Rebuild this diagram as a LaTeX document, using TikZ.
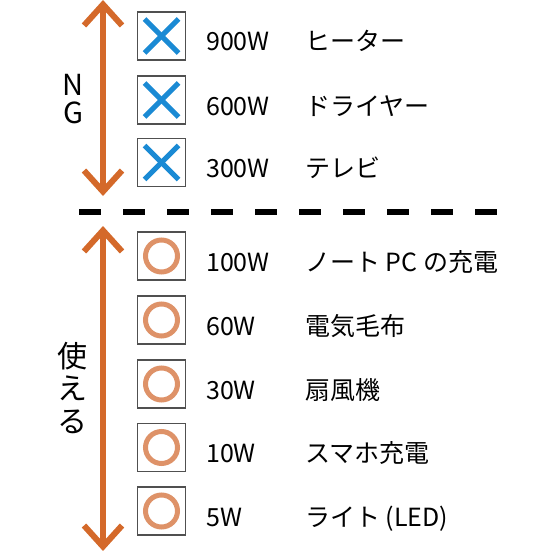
\documentclass[tikz,border=0pt]{standalone}
\usepackage{fontspec}
\setmainfont{Noto Sans CJK JP}
\usetikzlibrary{arrows.meta}
\definecolor{arrowor}{RGB}{212,105,42}
\definecolor{circor}{RGB}{222,146,104}
\definecolor{crossbl}{RGB}{26,138,212}
\definecolor{boxgr}{RGB}{80,80,80}
\begin{document}
\begin{tikzpicture}[x=1pt,y=-1pt,
  bigarrow/.style={draw=arrowor,line width=6pt,
    {Straight Barb[length=21pt,width=38pt]}-{Straight Barb[length=21pt,width=38pt]}},
  markbox/.style={draw=boxgr,line width=1.3pt,minimum width=48pt,minimum height=48pt,inner sep=0pt},
  watt/.style={anchor=base west,inner sep=0pt,font=\fontsize{25}{29}\selectfont},
  label/.style={anchor=base west,inner sep=0pt,font=\fontsize{25}{29}\selectfont},
  crossl/.style={draw=crossbl,line width=5pt},
  circl/.style={draw=circor,line width=5pt}]
\useasboundingbox (0,0) rectangle (551,551);
% arrows
\coordinate (a1t) at (103,0);
\coordinate (a1b) at (103,196);
\coordinate (a2t) at (103,226);
\coordinate (a2b) at (103,551);
\draw[bigarrow] (a1t) -- (a1b);
\draw[bigarrow] (a2t) -- (a2b);
% dashed separator
\coordinate (dl) at (79,212);
\coordinate (dr) at (500,212);
\draw[black,line width=6pt,dash pattern=on 22pt off 22pt] (dl) -- (dr);
% side labels
\node[inner sep=0pt,align=center,font=\fontsize{29}{28}\selectfont] (ng) at (73,99) {N\\G};
\node[inner sep=0pt,align=center,font=\fontsize{30}{32.5}\selectfont] (use) at (72,388) {使\\え\\る};
% NG rows
\foreach \y/\w/\t [count=\i] in {36/900W/ヒーター,100/600W/ドライヤー,162.5/300W/テレビ}{
  \node[markbox] (bx\i) at (161.5,\y) {};
  \draw[crossl] ([shift={(-17,-17)}]bx\i.center) -- ([shift={(17,17)}]bx\i.center);
  \draw[crossl] ([shift={(-17,17)}]bx\i.center) -- ([shift={(17,-17)}]bx\i.center);
  \node[watt] (w\i) at (206,\y+15) {\w};
  \node[label] (t\i) at (305,\y+15) {\t};
}
% OK rows
\foreach \y/\w/\t [count=\i] in {256/100W/ノート PC の充電,320/60W/電気毛布,384/30W/扇風機,447.5/10W/スマホ充電,511/5W/ライト (LED)}{
  \node[markbox] (ob\i) at (161.5,\y) {};
  \draw[circl] (ob\i.center) circle (16);
  \node[watt] (ow\i) at (206,\y+15) {\w};
  \node[label] (ot\i) at (305,\y+15) {\t};
}
\end{tikzpicture}
\end{document}
